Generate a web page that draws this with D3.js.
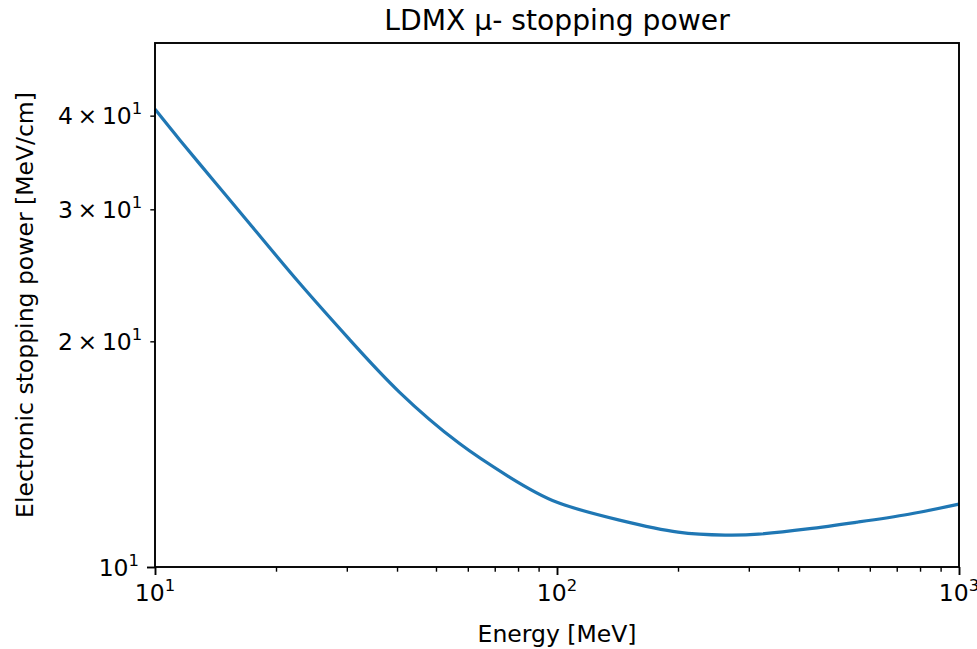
<!DOCTYPE html>
<html>
<head>
<meta charset="utf-8">
<script src="https://cdn.jsdelivr.net/npm/d3@7"></script>
<style>
  html, body { margin: 0; padding: 0; background: #fff; }
  svg { display: block; }
  text { font-family: "DejaVu Sans", sans-serif; fill: #000; }
</style>
</head>
<body>
<svg id="chart" width="977" height="649"></svg>
<script>
// ---- data ----
const energyMeV = [10, 11.54, 14.1, 17.2, 22.9, 30.5, 40.6, 57.1, 76.2, 100, 143, 200, 262, 317, 420, 560, 750, 1000];
const stoppingPower = [40.8, 37.1, 32.6, 28.7, 23.9, 20.1, 17.1, 14.62, 13.18, 12.2, 11.55, 11.13, 11.03, 11.06, 11.24, 11.48, 11.76, 12.13];

const xMajorTicks = [10, 100, 1000];
const xMajorExp = ["1", "2", "3"];
const xMinorTicks = [20, 30, 40, 50, 60, 70, 80, 90, 200, 300, 400, 500, 600, 700, 800, 900];
const yMajorTicks = [10];
const yMinorTicks = [20, 30, 40];
const yMinorMantissa = ["2", "3", "4"];

const titleText = "LDMX \u03bc- stopping power";
const xLabelText = "Energy [MeV]";
const yLabelText = "Electronic stopping power [MeV/cm]";

// ---- layout ----
const plotL = 155, plotR = 959, plotT = 43, plotB = 567;
const fs = 23.5;

const svg = d3.select("#chart");

const x = d3.scaleLog().domain([10, 1000]).range([plotL, plotR]);
const y = d3.scaleLog().domain([10, 50]).range([plotB, plotT]);

// curve
const line = d3.line()
  .x((d, i) => x(energyMeV[i]))
  .y((d, i) => y(stoppingPower[i]))
  .curve(d3.curveNatural);

svg.append("path")
  .datum(stoppingPower)
  .attr("d", line)
  .attr("fill", "none")
  .attr("stroke", "#1f77b4")
  .attr("stroke-width", 3.2)
  .attr("stroke-linejoin", "round")
  .attr("stroke-linecap", "butt");

// axes (tick marks via d3 axes)
const majorLen = 8, minorLen = 4.7;
const gx = svg.append("g").attr("transform", `translate(0,${plotB})`);
gx.call(d3.axisBottom(x).tickValues(xMajorTicks).tickSize(majorLen).tickFormat(""));
const gxm = svg.append("g").attr("transform", `translate(0,${plotB})`);
gxm.call(d3.axisBottom(x).tickValues(xMinorTicks).tickSize(minorLen).tickFormat(""));
const gy = svg.append("g").attr("transform", `translate(${plotL},0)`);
gy.call(d3.axisLeft(y).tickValues(yMajorTicks).tickSize(majorLen).tickFormat(""));
const gym = svg.append("g").attr("transform", `translate(${plotL},0)`);
gym.call(d3.axisLeft(y).tickValues(yMinorTicks).tickSize(minorLen).tickFormat(""));

[gx, gxm, gy, gym].forEach(g => {
  g.select(".domain").remove();
  g.selectAll(".tick line").attr("stroke", "#000");
});
gx.selectAll(".tick line").attr("stroke-width", 1.9);
gy.selectAll(".tick line").attr("stroke-width", 1.9);
gxm.selectAll(".tick line").attr("stroke-width", 1.4);
gym.selectAll(".tick line").attr("stroke-width", 1.4);

// spines
svg.append("rect")
  .attr("x", plotL).attr("y", plotT)
  .attr("width", plotR - plotL).attr("height", plotB - plotT)
  .attr("fill", "none").attr("stroke", "#000").attr("stroke-width", 1.9);

// x tick labels 10^n
xMajorTicks.forEach((v, i) => {
  const t = svg.append("text")
    .attr("x", x(v)).attr("y", plotB + majorLen + 8 + 17.5)
    .attr("text-anchor", "middle")
    .style("font-size", fs + "px");
  t.append("tspan").text("10");
  t.append("tspan").attr("dy", -fs * 0.42).style("font-size", (fs * 0.7) + "px").text(xMajorExp[i]);
});

// y tick labels
yMajorTicks.forEach(v => {
  const t = svg.append("text")
    .attr("x", plotL - majorLen - 8).attr("y", y(v) + 8.5)
    .attr("text-anchor", "end")
    .style("font-size", fs + "px");
  t.append("tspan").text("10");
  t.append("tspan").attr("dy", -fs * 0.42).style("font-size", (fs * 0.7) + "px").text("1");
});
yMinorTicks.forEach((v, i) => {
  const t = svg.append("text")
    .attr("x", plotL - minorLen - 8).attr("y", y(v) + 8.5)
    .attr("text-anchor", "end")
    .style("font-size", fs + "px");
  t.append("tspan").text(yMinorMantissa[i] + "\u2009\u00d7\u200910");
  t.append("tspan").attr("dy", -fs * 0.42).style("font-size", (fs * 0.7) + "px").text("1");
});

// title
svg.append("text")
  .attr("x", (plotL + plotR) / 2).attr("y", 30)
  .attr("text-anchor", "middle")
  .style("font-size", "28.2px")
  .text(titleText);

// x label
svg.append("text")
  .attr("x", (plotL + plotR) / 2).attr("y", 642)
  .attr("text-anchor", "middle")
  .style("font-size", fs + "px")
  .text(xLabelText);

// y label
svg.append("text")
  .attr("transform", `translate(33,${(plotT + plotB) / 2}) rotate(-90)`)
  .attr("text-anchor", "middle")
  .style("font-size", fs + "px")
  .text(yLabelText);
</script>
</body>
</html>
